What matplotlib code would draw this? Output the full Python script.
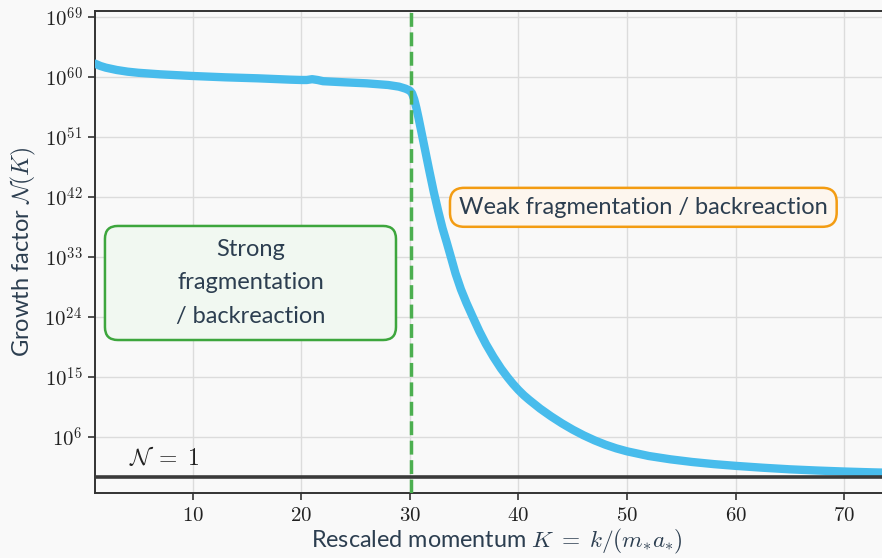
import numpy as np
import matplotlib
matplotlib.use("Agg")
import matplotlib.pyplot as plt
from matplotlib.patches import FancyBboxPatch
from matplotlib.ticker import FixedLocator, FuncFormatter

plt.rcParams["font.family"] = ["Lato", "DejaVu Sans"]
plt.rcParams["mathtext.fontset"] = "cm"

# Rescaled momentum K and log10 of the growth factor N(K)
K_VALUES = [1.0, 1.5, 2.0, 3.0, 4.0, 5.0, 7.0, 10.0, 13.0, 16.0, 19.0, 20.0,
            20.5, 21.0, 21.5, 22.0, 24.0, 26.0, 28.0, 29.0, 29.6, 30.0, 30.2,
            30.4, 30.6, 30.8, 31.0, 31.2, 31.5, 31.8, 32.2, 32.6, 33.0, 33.4,
            33.75, 34.2, 34.7, 35.2, 35.75, 36.4, 37.0, 37.7, 38.4, 39.0,
            39.5, 40.0, 40.5, 41.0, 42.0, 43.0, 44.0, 45.0, 46.0, 47.0, 48.0,
            49.0, 50.0, 52.0, 54.0, 56.0, 58.0, 60.0, 62.5, 65.0, 67.5, 70.0,
            72.5, 75.0]
LOG10_N = [61.95, 61.6, 61.35, 61.0, 60.75, 60.58, 60.35, 60.1, 59.9, 59.75,
           59.55, 59.5, 59.5, 59.62, 59.5, 59.32, 59.15, 59.0, 58.75, 58.5,
           58.2, 57.9, 57.5, 56.6, 55.3, 53.8, 52.2, 50.6, 48.2, 45.8, 42.7,
           39.9, 37.3, 35.1, 33.1, 30.5, 28.1, 26.1, 24.1, 21.8, 19.9, 17.95,
           16.2, 14.9, 13.9, 13.0, 12.2, 11.5, 10.2, 9.05, 8.0, 7.05, 6.2,
           5.45, 4.8, 4.25, 3.8, 3.1, 2.6, 2.2, 1.88, 1.62, 1.34, 1.1,
           0.92, 0.77, 0.65, 0.55]

K_CRIT = 30.1
Y_TICK_EXPONENTS = [6, 15, 24, 33, 42, 51, 60, 69]
X_TICKS = [10, 20, 30, 40, 50, 60, 70]

TEXT_COLOR = "#2c3e50"
BG = "#f9f9f9"

fig = plt.figure(figsize=(8.82, 5.58), dpi=100, facecolor=BG)
ax = fig.add_axes([0.1077, 0.1165, 0.911, 0.8638], facecolor=BG)

k = np.array(K_VALUES)
n = 10.0 ** np.array(LOG10_N)

ax.set_yscale("log")
ax.plot(k, n, color="#48bcec", lw=6, solid_capstyle="round",
        solid_joinstyle="round", zorder=3)
ax.axhline(1.0, color="#3a3a3a", lw=2.6, zorder=4)
ax.axvline(K_CRIT, color="#4caf50", lw=2.5, dashes=(4, 1.6), zorder=5)

ax.set_xlim(1, 75)
ax.set_ylim(10 ** -2.45, 10 ** 69.85)

ax.yaxis.set_major_locator(FixedLocator([10.0 ** e for e in Y_TICK_EXPONENTS]))
ax.yaxis.set_major_formatter(
    FuncFormatter(lambda v, _: rf"$10^{{{int(round(np.log10(v)))}}}$"))
ax.yaxis.set_minor_locator(FixedLocator([]))
ax.xaxis.set_major_locator(FixedLocator(X_TICKS))
ax.xaxis.set_major_formatter(FuncFormatter(lambda v, _: rf"${int(v)}$"))

ax.tick_params(axis="both", which="major", direction="out", length=5,
               width=1.2, color="#333333", labelsize=15, labelcolor="#222222",
               pad=4)
ax.grid(True, color="#dcdcdc", lw=1.0, zorder=0)
ax.set_axisbelow(True)
for side in ("left", "bottom", "top", "right"):
    ax.spines[side].set_color("#333333")
    ax.spines[side].set_linewidth(1.4)

ax.set_xlabel(r"Rescaled momentum $K\;=\;k/(m_{*} a_{*})$", fontsize=16.8,
              color=TEXT_COLOR, labelpad=1)
ax.set_ylabel(r"Growth factor $\mathcal{N}(K)$", fontsize=17,
              color=TEXT_COLOR, labelpad=5)

ax.text(4.1, 10 ** 1.15, r"$\mathcal{N}\;=\;1$", fontsize=17, color="#222222",
        va="bottom", ha="left")

# strong-regime box, sized in axes fraction
ax.add_patch(FancyBboxPatch((0.0124, 0.3174), 0.3622, 0.2366,
                            boxstyle="round,pad=0,rounding_size=0.016",
                            mutation_aspect=803.6 / 482,
                            transform=ax.transAxes, facecolor="#f1f8f1",
                            edgecolor="#3da63d", lw=1.8, zorder=6))
ax.text(0.1935, 0.4357, "Strong\nfragmentation\n/ backreaction",
        transform=ax.transAxes, fontsize=17, color=TEXT_COLOR, ha="center",
        va="center", linespacing=1.75, zorder=7)

ax.text(51.5, 10 ** 40.4, "Weak fragmentation / backreaction",
        fontsize=17, color=TEXT_COLOR, ha="center", va="center", zorder=6,
        bbox=dict(boxstyle="round,pad=0.38,rounding_size=0.6",
                  facecolor="#fdf6ee", edgecolor="#f39c12", lw=1.8))

fig.savefig("out.png", dpi=100, facecolor=BG)
